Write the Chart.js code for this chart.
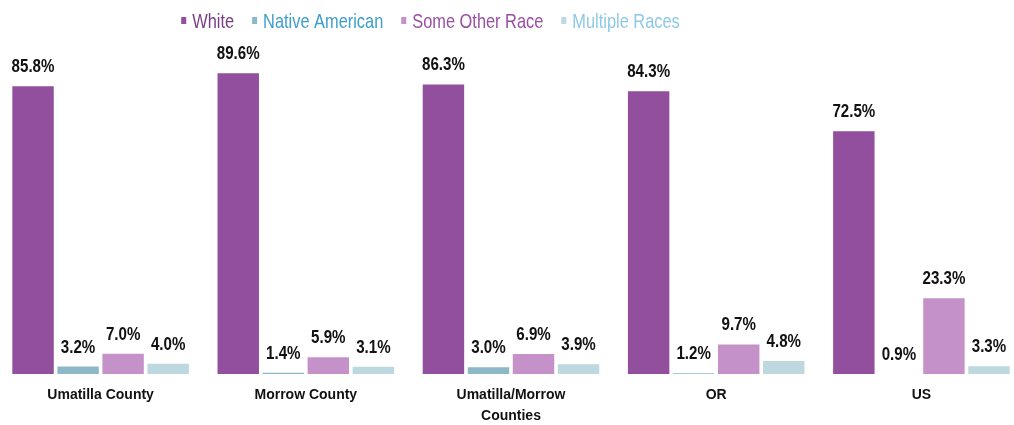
<!DOCTYPE html>
<html>
<head>
<meta charset="utf-8">
<script src="https://cdn.jsdelivr.net/npm/chart.js@4.4.1/dist/chart.umd.min.js"></script>
<style>
  html, body { margin: 0; padding: 0; background: #fff; overflow: hidden; }
  #wrap { position: absolute; left: -2px; top: 0; width: 1026px; height: 425px; }
</style>
</head>
<body>
<div id="wrap"><canvas id="myChart"></canvas></div>
<script>
// data
const areas = [['Umatilla County'], ['Morrow County'], ['Umatilla/Morrow', 'Counties'], ['OR'], ['US']];
const white = [85.8, 89.6, 86.3, 84.3, 72.5];
const nativeAmerican = [3.2, 1.4, 3.0, 1.2, 0.9];
const someOtherRace = [7.0, 5.9, 6.9, 9.7, 23.3];
const multipleRaces = [4.0, 3.1, 3.9, 4.8, 3.3];

const seriesNames = ['White', 'Native American', 'Some Other Race', 'Multiple Races'];
const barColors = ['#914f9e', '#8db8c7', '#c492c9', '#bdd8df'];
const legendTextColors = ['#7a3d85', '#3d9dcc', '#9a4ea4', '#8ec8e6'];

const font = "'Liberation Sans', Arial, sans-serif";

// the original uses a condensed face, so squeeze the text a bit
function narrowText(ctx, text, x, y, squeeze) {
    ctx.save();
    ctx.translate(x, y);
    ctx.scale(squeeze, 1);
    ctx.fillText(text, 0, 0);
    ctx.restore();
}

// value labels above the bars
const valueLabels = {
    id: 'valueLabels',
    afterDatasetsDraw(chart) {
        const ctx = chart.ctx;
        const bottom = chart.chartArea.bottom;
        ctx.save();
        ctx.font = 'bold 18px ' + font;
        ctx.fillStyle = '#111';
        ctx.textAlign = 'center';
        ctx.textBaseline = 'middle';
        chart.data.datasets.forEach((ds, i) => {
            chart.getDatasetMeta(i).data.forEach((bar, j) => {
                const top = Math.min(bar.y, bottom);
                narrowText(ctx, ds.data[j].toFixed(1) + '%', bar.x, top - 19, 0.84);
            });
        });
        ctx.restore();
    }
};

// legend on top, coloured text
const topLegend = {
    id: 'topLegend',
    afterDraw(chart) {
        const ctx = chart.ctx;
        const squeeze = 0.78;
        ctx.save();
        ctx.font = '21px ' + font;
        ctx.textBaseline = 'alphabetic';
        ctx.textAlign = 'left';
        const widths = seriesNames.map(n => ctx.measureText(n).width * squeeze);
        const total = widths.reduce((a, b) => a + b, 0) + seriesNames.length * 11 + (seriesNames.length - 1) * 18;
        let x = 432.5 - total / 2;
        seriesNames.forEach((name, i) => {
            ctx.fillStyle = barColors[i];
            ctx.fillRect(x, 17, 5, 7);
            ctx.fillStyle = legendTextColors[i];
            narrowText(ctx, name, x + 11, 28, squeeze);
            x += 11 + widths[i] + 18;
        });
        ctx.restore();
    }
};

const ctx = document.getElementById('myChart').getContext('2d');
const myChart = new Chart(ctx, {
    type: 'bar',
    data: {
        labels: areas,
        datasets: [white, nativeAmerican, someOtherRace, multipleRaces].map((vals, i) => ({
            label: seriesNames[i],
            data: vals,
            backgroundColor: barColors[i],
            borderWidth: 0,
            barPercentage: 0.92,
            categoryPercentage: 0.878
        }))
    },
    options: {
        responsive: true,
        maintainAspectRatio: false,
        animation: false,
        layout: { padding: { top: 38, bottom: -13, left: 0, right: 0 } },
        plugins: {
            tooltip: { enabled: false },
            legend: { display: false }
        },
        scales: {
            x: {
                grid: { display: false, drawTicks: false },
                border: { display: false },
                ticks: {
                    color: '#111',
                    padding: 11,
                    maxRotation: 0,
                    font: { family: font, size: 14, weight: 'bold', lineHeight: 1.5 }
                }
            },
            y: {
                display: false,
                min: 1,
                max: 100
            }
        }
    },
    plugins: [valueLabels, topLegend]
});
</script>
</body>
</html>
